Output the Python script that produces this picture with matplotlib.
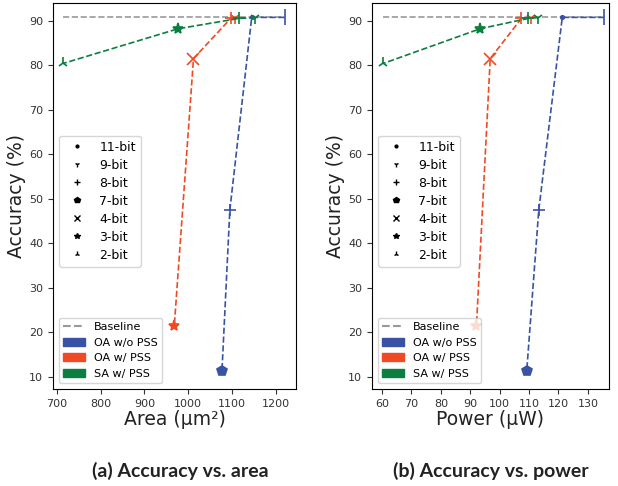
import matplotlib
matplotlib.use("Agg")
import matplotlib.pyplot as plt
import matplotlib.patches as mpatches
from matplotlib.lines import Line2D

# bit widths and their markers
bit_labels = ["11-bit", "9-bit", "8-bit", "7-bit", "4-bit", "3-bit", "2-bit"]
bit_markers = [".", "1", "+", "p", "x", "*", "2"]

baseline_acc = 90.75

# OA w/o PSS
oa_nopss_markers = ["|", ".", "+", "p"]
oa_nopss_acc = [90.75, 90.75, 47.4, 11.2]
oa_nopss_area = [1220, 1145, 1095, 1077]
oa_nopss_power = [135.6, 121.3, 113.3, 109.2]

# OA w/ PSS
oa_pss_markers = ["1", "+", "x", "*"]
oa_pss_acc = [90.6, 90.5, 81.5, 21.3]
oa_pss_area = [1106, 1097, 1012, 968]
oa_pss_power = [110.6, 107.4, 96.8, 92.1]

# SA w/ PSS
sa_pss_markers = ["1", "+", "*", "2"]
sa_pss_acc = [90.7, 90.5, 88.2, 80.4]
sa_pss_area = [1153, 1115, 977, 714]
sa_pss_power = [112.9, 109.6, 93.4, 60.4]

c_blue = "#3953a4"
c_red = "#ef4a24"
c_green = "#0b7e40"

marker_size = {".": 5, "1": 8, "+": 9, "p": 7, "x": 8, "*": 8, "2": 8, "|": 11}

fig = plt.figure(figsize=(6.18, 4.86), dpi=100)
ax1 = fig.add_axes([0.0858, 0.2, 0.393, 0.794])
ax2 = fig.add_axes([0.602, 0.2, 0.383, 0.794])


def draw(ax, xb, xr, xg, xlim):
    lo = min(xb + xr + xg)
    hi = max(xb + xr + xg)
    ax.plot([lo, hi], [baseline_acc, baseline_acc], "--", color="gray", alpha=0.8, lw=1.2)
    for xs, ys, ms, c in [(xb, oa_nopss_acc, oa_nopss_markers, c_blue),
                          (xr, oa_pss_acc, oa_pss_markers, c_red),
                          (xg, sa_pss_acc, sa_pss_markers, c_green)]:
        ax.plot(xs, ys, "--", color=c, lw=1.2)
        for x, y, m in zip(xs, ys, ms):
            ax.plot(x, y, marker=m, color=c, markersize=marker_size[m], mew=1.2, ls="none")
    ax.set_xlim(*xlim)
    ax.set_ylim(7.3, 94)
    ax.set_yticks(range(10, 91, 10))
    ax.tick_params(labelsize=8, colors="#333333")
    ax.set_ylabel("Accuracy (%)", fontsize=13.5, color="#222222", labelpad=2)

    h_bits = [Line2D([], [], marker=m, color="black", ls="none", markersize=4)
              for m in bit_markers]
    leg1 = ax.legend(h_bits, bit_labels, loc="upper left", bbox_to_anchor=(0.0, 0.672),
                     fontsize=9, handlelength=2, framealpha=0.8, labelspacing=0.4)
    ax.add_artist(leg1)
    h_cfg = [Line2D([], [], ls="--", color="gray", alpha=0.8),
             mpatches.Patch(color=c_blue), mpatches.Patch(color=c_red),
             mpatches.Patch(color=c_green)]
    ax.legend(h_cfg, ["Baseline", "OA w/o PSS", "OA w/ PSS", "SA w/ PSS"],
              loc="lower left", fontsize=8, framealpha=0.8)


draw(ax1, oa_nopss_area, oa_pss_area, sa_pss_area, (691, 1246))
ax1.set_xticks(range(700, 1201, 100))
ax1.set_xlabel("Area (µm²)", fontsize=13.5, color="#222222", labelpad=1)

draw(ax2, oa_nopss_power, oa_pss_power, sa_pss_power, (56.6, 137.1))
ax2.set_xticks(range(60, 131, 10))
ax2.set_xlabel("Power (µW)", fontsize=13.5, color="#222222", labelpad=1)

fig.text(0.291, 0.018, "(a) Accuracy vs. area", ha="center", va="baseline", fontsize=14,
         fontweight="bold", family="Lato", color="#222222")
fig.text(0.795, 0.018, "(b) Accuracy vs. power", ha="center", va="baseline", fontsize=14,
         fontweight="bold", family="Lato", color="#222222")

fig.savefig("out.png", dpi=100)
